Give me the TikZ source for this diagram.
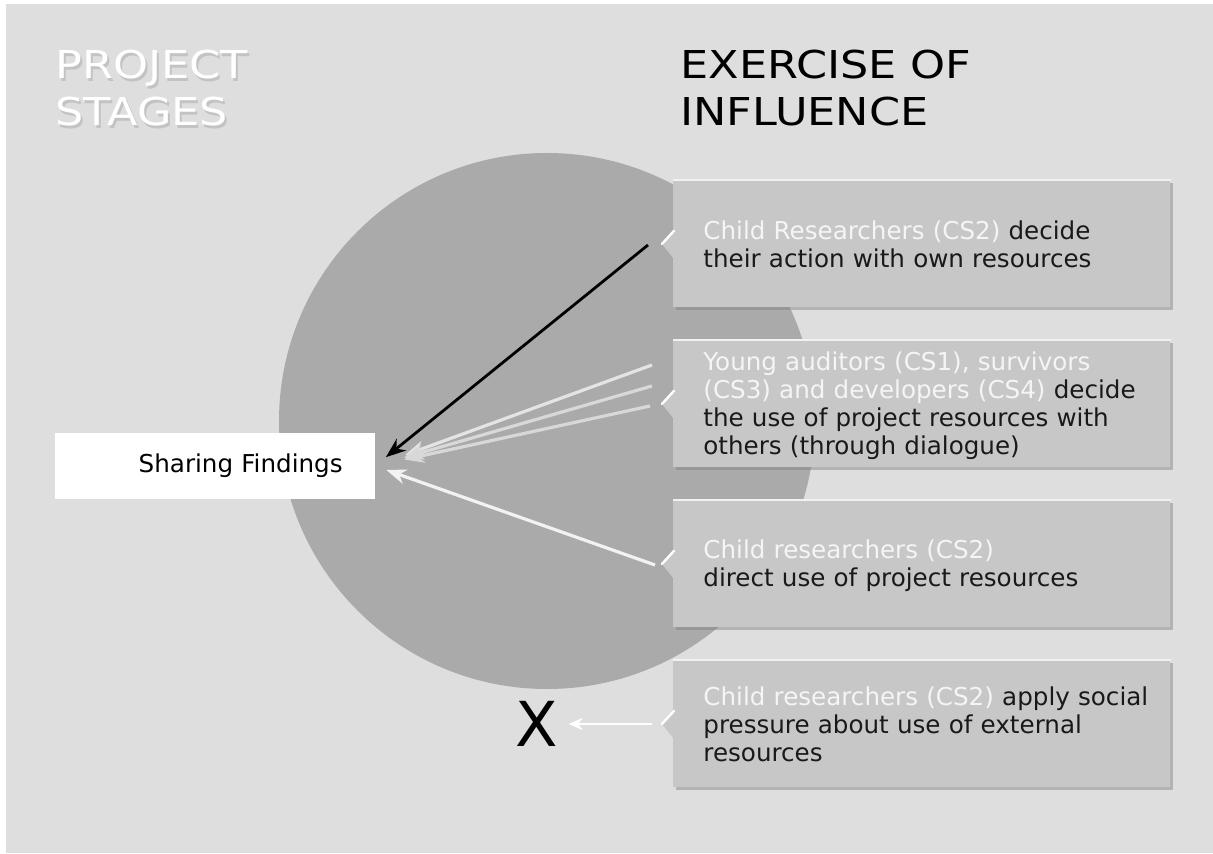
\documentclass[tikz,border=0pt]{standalone}
\usepackage{fontspec}
\setmainfont{DejaVu Sans}
\newfontfamily\titlefont[FakeStretch=1.16]{DejaVu Sans}
\usetikzlibrary{arrows.meta,shadows}
\definecolor{panel}{HTML}{DEDEDE}
\definecolor{disc}{HTML}{AAAAAA}
\definecolor{boxgray}{HTML}{C7C7C7}
\definecolor{paleline}{HTML}{D8D8D8}
\newcommand{\actor}[1]{{\color{white!96!black}#1}}
\tikzset{
  stagebox/.style={fill=white, anchor=east, minimum height=33pt, text width=128pt, inner xsep=16pt, align=right, font=\fontsize{12.3}{14}\selectfont},
  inflbox/.style={fill=boxgray, anchor=north west, minimum width=248.5pt, minimum height=63.5pt, inner sep=0pt,
    drop shadow={shadow xshift=1.2pt, shadow yshift=-1.2pt, fill=black!50, opacity=0.45}},
  infltext/.style={anchor=west, text width=232pt, inner sep=0pt, align=left, text=black!90, font=\fontsize{12.3}{14}\selectfont},
  headline/.style={anchor=north west, inner sep=0pt, align=left, font=\titlefont\fontsize{19.2}{23.5}\selectfont},
  flow/.style={line width=1.6pt, -{Stealth[length=10pt,width=7.5pt]}}
}
\begin{document}
\begin{tikzpicture}[x=0.5pt,y=-0.5pt]
\useasboundingbox (0,0) rectangle (1213,854);
\fill[white] (0,0) rectangle (1213,854);
\fill[panel] (6,4) rectangle (1213,853);
\fill[disc] (547,421) circle [radius=268];
% headings
\node[headline, text=black!30, opacity=0.6] at (57,53) {PROJECT\\STAGES};
\node[headline, text=white] (stages) at (55,50) {PROJECT\\STAGES};
\node[headline] (influence) at (680,50) {EXERCISE OF\\INFLUENCE};
% stage
\node[stagebox] (share) at (375,466) {Sharing Findings};
% influence boxes
\foreach \n/\top in {1/180,2/340,3/500,4/660}{
  \node[inflbox] (b\n) at (673,\top) {};
  \draw[white!75!boxgray, line width=1pt] (b\n.north west) -- (b\n.north east);
  \fill[boxgray] ([yshift=7pt]b\n.west) -- ([xshift=-5.5pt]b\n.west) -- ([yshift=-7pt]b\n.west) -- cycle;
  \draw[white, line width=1.2pt, line cap=round] ([xshift=-5.5pt]b\n.west) -- ([xshift=0.5pt,yshift=6.5pt]b\n.west);
}
\node[infltext] (t1) at ([xshift=15pt]b1.west) {\actor{Child Researchers (CS2)} decide\\their action with own resources};
\node[infltext] (t2) at ([xshift=15pt,yshift=-1pt]b2.west) {\actor{Young auditors (CS1), survivors}\\\actor{(CS3) and developers (CS4)} decide\\the use of project resources with\\others (through dialogue)};
\node[infltext] (t3) at ([xshift=15pt,yshift=-1pt]b3.west) {\actor{Child researchers (CS2)}\\direct use of project resources};
\node[infltext] (t4) at ([xshift=15pt]b4.west) {\actor{Child researchers (CS2)} apply social\\pressure about use of external\\resources};
\node[inner sep=0pt, font=\fontsize{31}{31}\selectfont] (x) at (537,724) {X};
% influence arrows
\coordinate (c1) at (648,245);
\coordinate (c2) at (652,365);
\coordinate (c3) at (652,386);
\coordinate (c4) at (650,406);
\coordinate (c5) at (655,565);
\coordinate (c6) at (652,724);
\draw[flow, paleline!70!white, shorten >=16pt] (c2) -- (share.east);
\draw[flow, paleline, shorten >=15pt] (c3) -- (share.east);
\draw[flow, paleline, shorten >=15pt] (c4) -- (share.east);
\draw[flow, black, line width=1.4pt, shorten >=7pt] (c1) -- (share.east);
\draw[flow, white!95!black, shorten >=6pt] (c5) -- (share.east);
\draw[white, line width=1.3pt, -{Stealth[length=7pt,width=6pt]}, shorten >=5pt] (c6) -- (x.east);
\end{tikzpicture}
\end{document}
